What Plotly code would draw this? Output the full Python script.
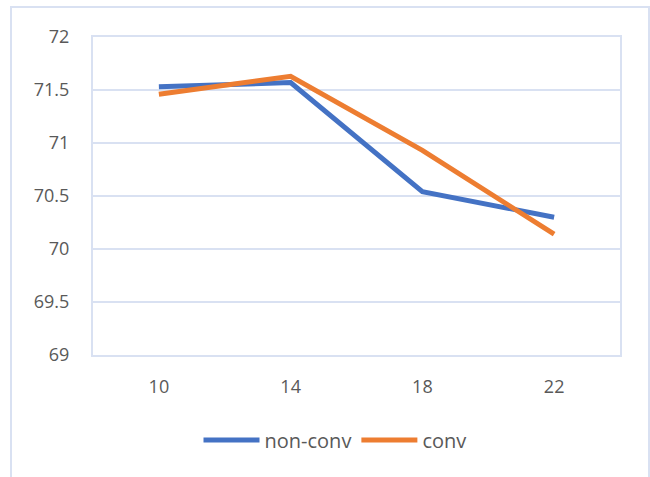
import plotly.graph_objects as go

# Data
categories = ["10", "14", "18", "22"]
non_conv = [71.53, 71.57, 70.54, 70.30]
conv = [71.46, 71.63, 70.93, 70.14]
y_ticks = [69, 69.5, 70, 70.5, 71, 71.5, 72]
y_tick_labels = ["69", "69.5", "70", "70.5", "71", "71.5", "72"]

W, H = 650, 477
ML, MR, MT, MB = 93, 30, 37, 122
grid_col = "#D9E1F2"
text_col = "#595959"
font_family = "Open Sans, Noto Sans, sans-serif"

fig = go.Figure()
fig.add_trace(go.Scatter(x=categories, y=non_conv, mode="lines", name="non-conv",
                         line=dict(color="#4472C4", width=5)))
fig.add_trace(go.Scatter(x=categories, y=conv, mode="lines", name="conv",
                         line=dict(color="#ED7D31", width=5)))

# outer chart frame, expressed in paper coordinates
pw, ph = W - ML - MR, H - MT - MB
def px_x(x):
    return (x - ML) / pw
def px_y(y):
    return (H - MB - y) / ph

fig.add_shape(type="rect", xref="paper", yref="paper",
              x0=px_x(11), x1=px_x(649), y0=px_y(490), y1=px_y(7),
              line=dict(color=grid_col, width=2), fillcolor="rgba(0,0,0,0)", layer="below")

fig.update_layout(
    width=W, height=H,
    margin=dict(l=ML, r=MR, t=MT, b=MB),
    paper_bgcolor="white", plot_bgcolor="white",
    font=dict(family=font_family, size=18, color=text_col),
    showlegend=True,
    legend=dict(orientation="h", x=px_x(335), xanchor="center", y=px_y(440), yanchor="middle",
                font=dict(size=20, color=text_col), itemwidth=56, tracegroupgap=0),
    xaxis=dict(type="category", range=[-0.5, 3.5], showgrid=False,
               showline=True, linecolor=grid_col, linewidth=2, mirror=True,
               ticks="outside", ticklen=14, tickcolor="rgba(0,0,0,0)",
               tickfont=dict(size=18, color=text_col), zeroline=False, fixedrange=True),
    yaxis=dict(range=[69, 72], tickvals=y_ticks, ticktext=y_tick_labels,
               showgrid=True, gridcolor=grid_col, gridwidth=2,
               showline=True, linecolor=grid_col, linewidth=2, mirror=True,
               ticks="outside", ticklen=18, tickcolor="rgba(0,0,0,0)",
               tickfont=dict(size=18, color=text_col), zeroline=False, fixedrange=True),
)

fig.write_html("out.html")
